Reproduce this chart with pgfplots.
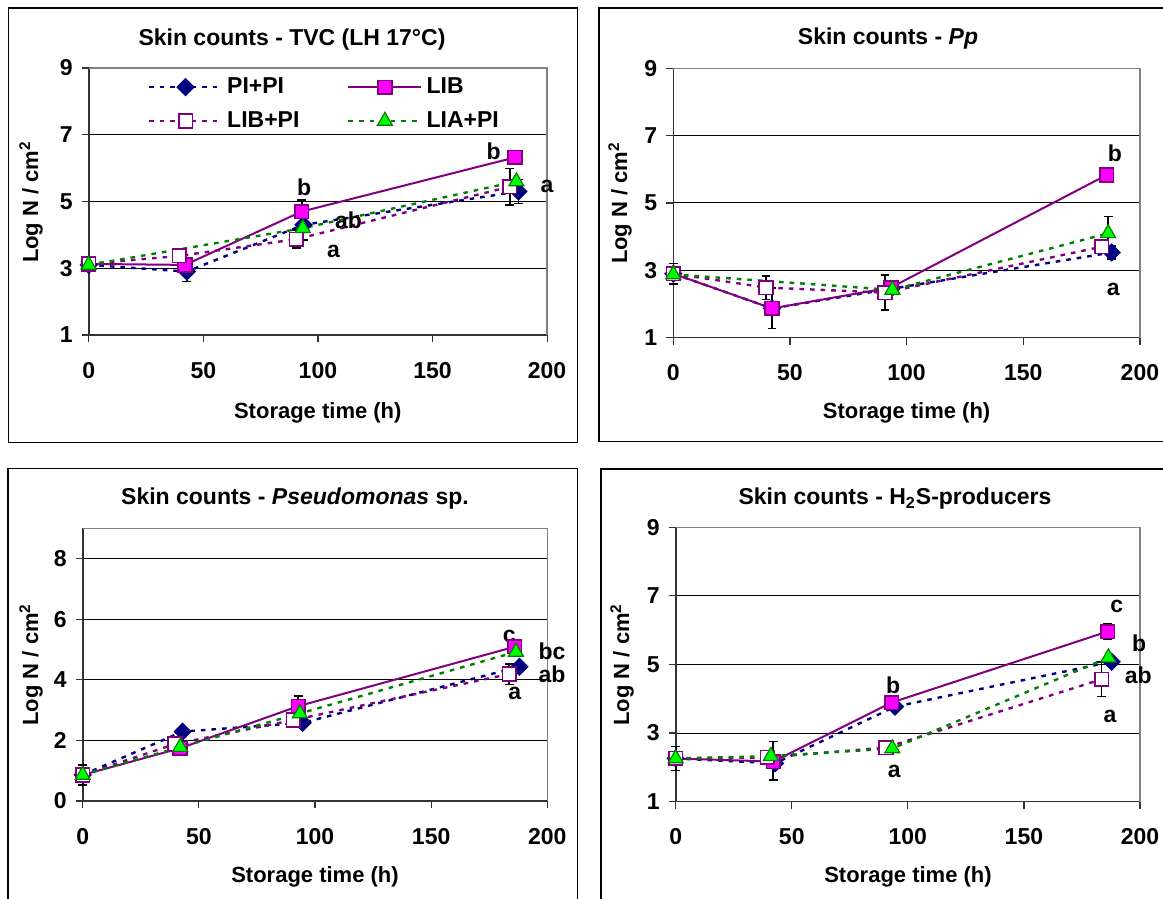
\documentclass[border=0pt]{standalone}
\usepackage{fontspec}
\setmainfont{Liberation Sans}
\usepackage{pgfplots}
\pgfplotsset{compat=1.18}

\definecolor{navyc}{RGB}{0,0,128}
\definecolor{purplec}{RGB}{128,0,128}
\definecolor{magc}{RGB}{255,0,255}
\definecolor{greenc}{RGB}{0,128,0}
\definecolor{limec}{RGB}{0,255,0}

\newcommand\fa{\fontsize{11.5pt}{13.8pt}\selectfont\bfseries}
\newcommand\fb{\fontsize{11pt}{13.2pt}\selectfont\bfseries}

\pgfplotsset{
  panel/.style={
    scale only axis, clip=false,
    xmin=0, xmax=200, xtick={0,50,100,150,200},
    axis x line*=bottom, axis y line*=left,
    tick align=outside, major tick length=3.5pt,
    tick style={line width=0.6pt, black!80},
    axis line style={line width=0.8pt, black!80, -},
    ymajorgrids, grid style={black, line width=0.5pt},
    tick label style={font=\fa},
    xticklabel style={yshift=-6.5pt},
    yticklabel style={xshift=-1pt},
    /pgf/number format/assume math mode=true,
  },
  sA/.style={navyc, line width=1.2pt, dash pattern=on 2.3pt off 3pt, mark=square*, mark options={solid, rotate=45, fill=navyc, draw=navyc, mark size=3pt, line width=0.5pt}},
  sB/.style={purplec, line width=1pt, solid, mark=square*, mark options={solid, fill=magc, draw=purplec, mark size=3.4pt, line width=0.8pt}},
  sC/.style={purplec, line width=1.2pt, dash pattern=on 2.3pt off 3pt, mark=square*, mark options={solid, fill=white, draw=purplec, mark size=3.4pt, line width=0.8pt}},
  sD/.style={greenc, line width=1.2pt, dash pattern=on 2.3pt off 3pt, mark=triangle*, mark options={solid, fill=limec, draw=greenc, mark size=4.3pt, line width=0.6pt}},
  eb/.style={draw=none, mark=none, forget plot, error bars/.cd, y dir=both, y explicit, error bar style={draw=black, line width=0.8pt, solid}, error mark options={rotate=90, draw=black, mark size=2.2pt, line width=0.8pt}},
}

\begin{document}
\begin{tikzpicture}
\useasboundingbox (0,0) rectangle (581.5pt,449.5pt);
% panel frames
\draw[line width=0.6pt] (4.15pt,228.15pt) rectangle (288.65pt,445.5pt);
\draw[line width=0.6pt] (299.5pt,228.65pt) rectangle (583pt,445.5pt);
\draw[line width=0.6pt] (4pt,-3pt) rectangle (288.65pt,215.25pt);
\draw[line width=0.6pt] (300.5pt,-3pt) rectangle (583pt,215pt);

% titles
\node[anchor=base, font=\fa] at (146pt,426.5pt) {Skin counts - TVC (LH 17°C)};
\node[anchor=base, font=\fa] at (444pt,427pt) {Skin counts - \textit{Pp}};
\node[anchor=base, font=\fa] at (147.5pt,197pt) {Skin counts - \textit{Pseudomonas} sp.};
\node[anchor=base, font=\fa] at (447.5pt,197pt) {Skin counts - H\textsubscript{2}S-producers};

% x labels
\node[anchor=base, font=\fb] at (158.9pt,240pt) {Storage time (h)};
\node[anchor=base, font=\fb] at (453.3pt,240pt) {Storage time (h)};
\node[anchor=base, font=\fb] at (157.5pt,8pt) {Storage time (h)};
\node[anchor=base, font=\fb] at (454pt,8pt) {Storage time (h)};

% y labels
\node[anchor=base, rotate=90, font=\fb] at (19pt,348.5pt) {Log N / cm\textsuperscript{2}};
\node[anchor=base, rotate=90, font=\fb] at (313.5pt,348pt) {Log N / cm\textsuperscript{2}};
\node[anchor=base, rotate=90, font=\fb] at (19pt,117.25pt) {Log N / cm\textsuperscript{2}};
\node[anchor=base, rotate=90, font=\fb] at (314.5pt,117.25pt) {Log N / cm\textsuperscript{2}};

% ---------------- Panel 1 ----------------
\begin{axis}[panel, at={(44.35pt,282pt)}, anchor=south west,
  width=229.2pt, height=133.5pt, ymin=1, ymax=9, ytick={1,3,5,7,9},
  legend columns=2,
  legend style={draw=none, fill=none, at={(rel axis cs:0.115,0.995)}, anchor=north west, font=\fa, row sep=3.5pt},
  legend cell align=left,
  legend image code/.code={\draw[mark repeat=2, mark phase=2, #1] plot coordinates {(0pt,0pt) (18.25pt,0pt) (36.5pt,0pt)};},
]
\draw[gray, line width=0.8pt] (rel axis cs:0,1) -- (rel axis cs:1,1) -- (rel axis cs:1,0);
\addplot[eb] coordinates {(42.8,2.9) +- (0,0.3) (93.7,4.3) +- (0,0.45) (187.5,5.3) +- (0,0.36)};
\addplot[eb] coordinates {(93,4.7) +- (0,0.35)};
\addplot[eb] coordinates {(90.5,3.87) +- (0,0.27) (183.7,5.44) +- (0,0.55)};
\addplot[sA] coordinates {(0,3.1) (42.8,2.9) (93.7,4.3) (187.5,5.3)};
\addlegendentry{\makebox[58pt][l]{PI+PI}}
\addplot[sB] coordinates {(0,3.13) (42,3.1) (93,4.7) (186,6.32)};
\addlegendentry{LIB}
\addplot[sC] coordinates {(0,3.13) (39.6,3.37) (90.5,3.87) (183.7,5.44)};
\addlegendentry{\makebox[58pt][l]{LIB+PI}}
\addplot[sD] coordinates {(0,3.1) (93.4,4.2) (186.6,5.6)};
\addlegendentry{LIA+PI}
\node[font=\fa] at (axis cs:94,5.44) {b};
\node[font=\fa] at (axis cs:113.4,4.44) {ab};
\node[font=\fa] at (axis cs:106.8,3.49) {a};
\node[font=\fa] at (axis cs:176.7,6.49) {b};
\node[font=\fa] at (axis cs:200,5.44) {a};
\end{axis}

% ---------------- Panel 2 ----------------
\begin{axis}[panel, at={(336.65pt,280.65pt)}, anchor=south west,
  width=233.3pt, height=134.7pt, ymin=1, ymax=9, ytick={1,3,5,7,9}]
\draw[gray, line width=0.8pt] (rel axis cs:0,1) -- (rel axis cs:1,1) -- (rel axis cs:1,0);
\addplot[eb] coordinates {(0,2.9) +- (0,0.3) (187.9,3.53) +- (0,0.2)};
\addplot[eb] coordinates {(42.3,1.87) +- (0,0.6)};
\addplot[eb] coordinates {(39.7,2.49) +- (0,0.35) (90.7,2.34) +- (0,0.52)};
\addplot[eb] coordinates {(186.4,4.1) +- (0,0.5)};
\addplot[sA] coordinates {(0,2.9) (42.3,1.87) (93.3,2.45) (187.9,3.53)};
\addplot[sB] coordinates {(0,2.9) (42.3,1.87) (93.3,2.49) (185.7,5.83)};
\addplot[sC] coordinates {(0,2.9) (39.7,2.49) (90.7,2.34) (183.6,3.7)};
\addplot[sD] coordinates {(0,2.88) (93.9,2.42) (186.4,4.1)};
\node[font=\fa] at (axis cs:189.3,6.49) {b};
\node[font=\fa] at (axis cs:188.6,2.42) {a};
\end{axis}

% ---------------- Panel 3 ----------------
\begin{axis}[panel, at={(41.35pt,49pt)}, anchor=south west,
  width=232.3pt, height=136.35pt, ymin=0, ymax=9, ytick={0,2,4,6,8}]
\draw[gray, line width=0.8pt] (rel axis cs:0,1) -- (rel axis cs:1,1) -- (rel axis cs:1,0);
\addplot[eb] coordinates {(0,0.86) +- (0,0.33)};
\addplot[eb] coordinates {(92.8,3.13) +- (0,0.33)};
\addplot[eb] coordinates {(183.6,4.19) +- (0,0.34)};
\addplot[sA] coordinates {(0,0.86) (43,2.29) (94.7,2.58) (188,4.43)};
\addplot[sB] coordinates {(0,0.86) (41.9,1.74) (92.8,3.13) (186,5.09)};
\addplot[sC] coordinates {(0,0.86) (39.7,1.88) (90.7,2.67) (183.6,4.19)};
\addplot[sD] coordinates {(0,0.86) (42,1.78) (93.5,2.89) (186.5,4.92)};
\node[font=\fa] at (axis cs:183.6,5.42) {c};
\node[font=\fa] at (axis cs:202,4.93) {bc};
\node[font=\fa] at (axis cs:202,4.19) {ab};
\node[font=\fa] at (axis cs:186,3.55) {a};
\end{axis}

% ---------------- Panel 4 ----------------
\begin{axis}[panel, at={(337.85pt,48.65pt)}, anchor=south west,
  width=232.15pt, height=137.2pt, ymin=1, ymax=9, ytick={1,3,5,7,9}]
\draw[gray, line width=0.8pt] (rel axis cs:0,1) -- (rel axis cs:1,1) -- (rel axis cs:1,0);
\addplot[eb] coordinates {(0,2.26) +- (0,0.35)};
\addplot[eb] coordinates {(42,2.19) +- (0,0.56) (186,5.96) +- (0,0.22)};
\addplot[eb] coordinates {(183.5,4.57) +- (0,0.5)};
\addplot[sA] coordinates {(0,2.26) (42.8,2.12) (94.5,3.77) (187.8,5.08)};
\addplot[sB] coordinates {(0,2.26) (42,2.17) (93,3.89) (186,5.96)};
\addplot[sC] coordinates {(0,2.26) (39.5,2.29) (90.6,2.58) (183.5,4.57)};
\addplot[sD] coordinates {(0,2.26) (41,2.33) (93.3,2.55) (186.4,5.2)};
\node[font=\fa] at (axis cs:93.7,4.4) {b};
\node[font=\fa] at (axis cs:94.2,1.87) {a};
\node[font=\fa] at (axis cs:190,6.7) {c};
\node[font=\fa] at (axis cs:199.6,5.62) {b};
\node[font=\fa] at (axis cs:199.3,4.69) {ab};
\node[font=\fa] at (axis cs:187.1,3.48) {a};
\end{axis}
\end{tikzpicture}
\end{document}
